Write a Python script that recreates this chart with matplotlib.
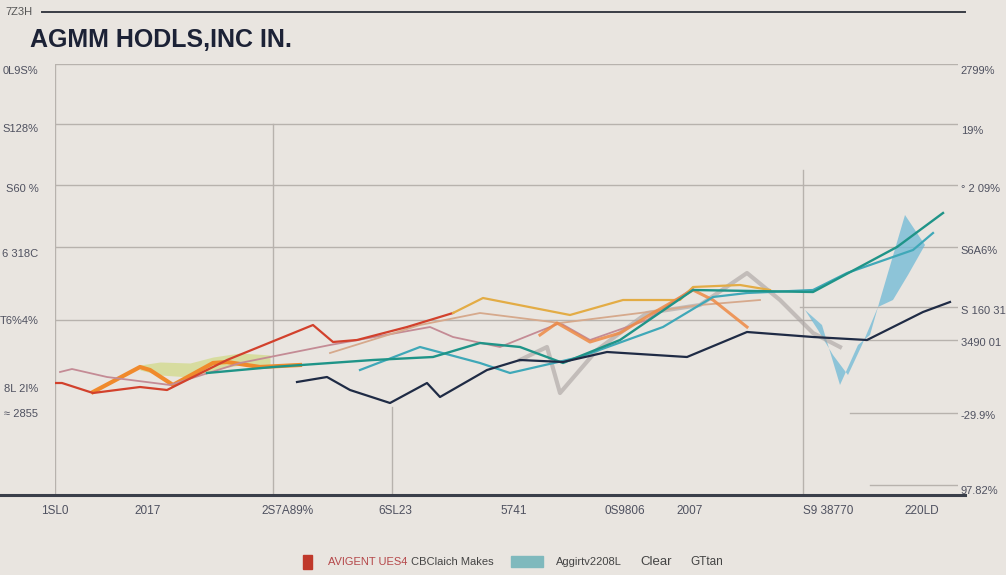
import matplotlib
matplotlib.use("Agg")
import matplotlib.pyplot as plt
from matplotlib.lines import Line2D

# ---------------- data (x = horizontal position, y = height units) ----------------
x_tick_pos = [55, 148, 288, 395, 514, 625, 690, 828, 922]
x_tick_labels = ["1SL0", "2017", "2S7A89%", "6SL23", "5741", "0S9806", "2007", "S9 38770", "220LD"]

left_tick_pos = [505, 447, 387, 322, 255, 187, 162]
left_tick_labels = ["0L9S%", "S128%", "S60 %", "6 318C", "T6%4%", "8L 2I%", "≈ 2855"]

right_tick_pos = [505, 445, 387, 325, 265, 233, 160, 85]
right_tick_labels = ["2799%", "19%", "° 2 09%", "S6A6%", "S 160 31", "3490 01", "-29.9%", "97.82%"]

red_x = [50, 62, 93, 140, 167, 227, 313, 333, 357, 407, 453]
red_y = [192, 192, 182, 188, 185, 215, 250, 233, 235, 248, 262]

mauve_x = [60, 72, 107, 170, 240, 330, 430, 453, 500, 560, 590, 647, 693]
mauve_y = [203, 206, 198, 190, 212, 230, 248, 238, 228, 252, 235, 255, 287]

orange_x = [93, 140, 150, 173, 213, 227, 260, 300]
orange_y = [183, 208, 205, 190, 212, 213, 208, 210]

gold_x = [453, 483, 570, 623, 680, 693, 740, 770]
gold_y = [262, 277, 260, 275, 275, 288, 290, 285]

tan_x = [330, 420, 480, 560, 640, 700, 760]
tan_y = [222, 250, 262, 252, 262, 270, 275]

orange2_x = [540, 557, 590, 620, 653, 693, 713, 747]
orange2_y = [240, 252, 233, 242, 262, 285, 275, 248]

teal_x = [207, 273, 373, 433, 480, 520, 563, 620, 693, 813, 897, 943]
teal_y = [202, 208, 215, 218, 232, 228, 212, 235, 285, 283, 328, 362]

teal2_x = [360, 420, 480, 510, 580, 663, 713, 747, 813, 847, 913, 933]
teal2_y = [205, 228, 212, 202, 218, 248, 278, 282, 285, 302, 325, 342]

navy_x = [297, 327, 350, 390, 427, 440, 487, 520, 563, 607, 687, 747, 813, 867, 923, 950]
navy_y = [193, 198, 185, 172, 192, 178, 205, 215, 213, 223, 218, 243, 238, 235, 263, 273]

gray_x = [520, 547, 560, 597, 647, 700, 747, 780, 813, 840]
gray_y = [215, 228, 182, 225, 262, 270, 302, 275, 242, 228]

blue_shape_x = [805, 822, 840, 858, 870, 880, 905, 925, 908, 893, 878, 862, 848, 833, 818]
blue_shape_y = [265, 250, 190, 230, 240, 275, 360, 330, 300, 275, 268, 230, 200, 220, 245]

bandx = [140, 160, 190, 213, 240, 270]
band_lo = [205, 200, 198, 205, 210, 208]
band_hi = [210, 213, 212, 218, 222, 220]

legend_labels = ["AVIGENT UES4", "CBClaich Makes", "Aggirtv2208L", "Clear", "GTtan"]

# ---------------- figure ----------------
BG = "#e9e5e0"
W, H = 1006, 575
FONT = "Liberation Sans"
fig = plt.figure(figsize=(W / 100, H / 100), dpi=100, facecolor=BG)

def fx(px):
    return px / W

def fy(py):
    return 1 - py / H

ax = fig.add_axes([fx(55), fy(495), fx(958) - fx(55), fy(64) - fy(495)])
ax.set_facecolor(BG)
ax.set_xlim(55, 958)
ax.set_ylim(80, 511)
for s in ax.spines.values():
    s.set_visible(False)

grid_c = "#b7b2ad"
for yv, x0, x1 in [(511, 55, 958), (451, 55, 958), (390, 55, 958), (328, 55, 958),
                   (255, 55, 812), (268, 800, 958), (235, 865, 958), (162, 850, 958),
                   (90, 870, 958)]:
    ax.plot([x0, x1], [yv, yv], color=grid_c, lw=1.0, zorder=1)
for xv, y0, y1 in [(55, 80, 511), (273, 80, 451), (392, 80, 168), (803, 80, 405)]:
    ax.plot([xv, xv], [y0, y1], color=grid_c, lw=1.0, zorder=1)

ax.fill_between(bandx, band_lo, band_hi, color="#c9d66a", alpha=0.55, lw=0, zorder=2)
ax.fill(blue_shape_x, blue_shape_y, color="#6fb9d6", alpha=0.75, lw=0, zorder=2)
ax.plot(gray_x, gray_y, color="#a8a2a0", lw=3.0, alpha=0.6, zorder=2)

ax.plot(orange_x, orange_y, color="#f08a2c", lw=3.0, zorder=3)
ax.plot(red_x, red_y, color="#d2412c", lw=1.6, zorder=4)
ax.plot(mauve_x, mauve_y, color="#c48b95", lw=1.3, zorder=3)
ax.plot(tan_x, tan_y, color="#d6a98c", lw=1.3, zorder=3)
ax.plot(gold_x, gold_y, color="#e3ac45", lw=1.6, zorder=4)
ax.plot(orange2_x, orange2_y, color="#ee8a45", lw=2.2, alpha=0.85, zorder=4)
ax.plot(teal2_x, teal2_y, color="#3fa8b8", lw=1.6, zorder=4)
ax.plot(teal_x, teal_y, color="#1f9488", lw=1.7, zorder=5)
ax.plot(navy_x, navy_y, color="#1f2b45", lw=1.6, zorder=6)
ax.plot(red_x[:1], red_y[:1], "o", color="#7a2a22", ms=3, zorder=6)

tick_c = "#4f5160"
ax.set_xticks(x_tick_pos)
ax.set_xticklabels(x_tick_labels, fontsize=8.5, color=tick_c, family=FONT)
ax.set_yticks(left_tick_pos)
ax.set_yticklabels(left_tick_labels, fontsize=8, color=tick_c, family=FONT)
ax.tick_params(axis="both", length=0)
ax.tick_params(axis="x", pad=7)
ax.tick_params(axis="y", pad=12)

ax2 = ax.twinx()
ax2.set_ylim(ax.get_ylim())
ax2.set_yticks(right_tick_pos)
ax2.set_yticklabels(right_tick_labels, fontsize=8, color=tick_c, family=FONT)
ax2.tick_params(axis="y", length=0, pad=2)
for s in ax2.spines.values():
    s.set_visible(False)

fig.add_artist(Line2D([fx(42), fx(965)], [fy(12), fy(12)], color="#3a3d45", lw=1.4))
fig.add_artist(Line2D([fx(0), fx(965)], [fy(495), fy(495)], color="#3a3f4a", lw=2.2))
fig.text(fx(5), fy(12), "7Z3H", fontsize=8, color="#555", va="center", ha="left", family=FONT)

fig.text(fx(30), fy(40), "AGMM HODLS,INC IN.", fontsize=18, fontweight="bold",
         color="#1c2236", va="center", ha="left", family=FONT)

ly = fy(562)
fig.patches.append(plt.Rectangle((fx(303), fy(569)), fx(9), fy(555) - fy(569),
                                 transform=fig.transFigure, color="#c0392b", figure=fig))
fig.text(fx(328), ly, legend_labels[0], fontsize=8, color="#b5484a", va="center", family=FONT)
fig.text(fx(411), ly, legend_labels[1], fontsize=8, color="#444", va="center", family=FONT)
fig.patches.append(plt.Rectangle((fx(511), fy(567)), fx(32), fy(556) - fy(567),
                                 transform=fig.transFigure, color="#7fb9bd", figure=fig))
fig.text(fx(556), ly, legend_labels[2], fontsize=8, color="#444", va="center", family=FONT)
fig.text(fx(640), ly, legend_labels[3], fontsize=9.5, color="#444", va="center", family=FONT)
fig.text(fx(690), ly, legend_labels[4], fontsize=8.5, color="#444", va="center", family=FONT)

fig.savefig("out.png", dpi=100, facecolor=BG)
